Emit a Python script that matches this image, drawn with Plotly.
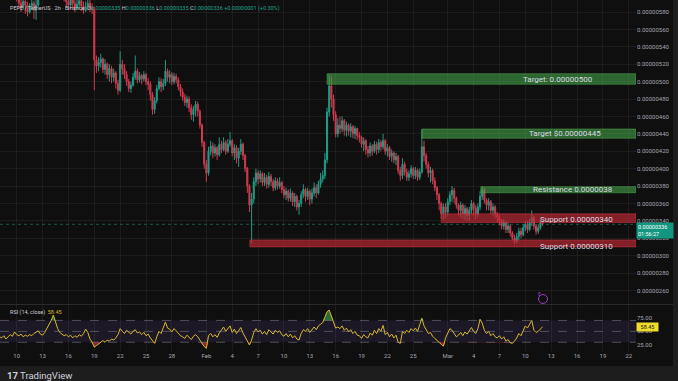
import plotly.graph_objects as go
import pandas as pd

# ---------------- data (prices in units of 1e-8 USDT, 6-hour bars) ----------------
start_time = "2026-01-08 00:00"
first_open = 608
close = [
    605, 610, 612, 606, 614, 609, 604, 600, 596, 590,
    585, 592, 588, 580, 586, 590, 582, 588, 598, 606,
    612, 618, 614, 620, 625, 618, 612, 608, 604, 600,
    597, 592, 588, 594, 590, 585, 589, 593, 587, 582,
    586, 590, 585, 583, 525, 518, 522, 526, 514, 520,
    508, 515, 505, 510, 498, 490, 520, 515, 508, 500,
    492, 496, 505, 512, 502, 507, 503, 508, 500, 497,
    485, 468, 478, 492, 500, 494, 498, 512, 505, 508,
    500, 506, 502, 494, 488, 482, 476, 480, 470, 462,
    468, 474, 466, 450, 430, 405, 395, 420, 426, 418,
    424, 416, 428, 422, 430, 420, 428, 432, 418, 424,
    412, 420, 428, 415, 400, 380, 358, 365, 385, 395,
    388, 394, 384, 390, 382, 391, 385, 378, 386, 380,
    384, 376, 370, 374, 366, 372, 362, 368, 356, 360,
    370, 376, 368, 374, 365, 372, 378, 372, 382, 388,
    392, 410, 465, 495, 480, 462, 440, 450, 446, 455,
    444, 450, 443, 448, 440, 446, 438, 436, 428, 432,
    422, 418, 426, 420, 428, 422, 430, 425, 432, 420,
    424, 414, 418, 410, 414, 398, 392, 405, 396, 390,
    394, 400, 392, 398, 390, 396, 425, 415, 405, 395,
    398, 386, 378, 370, 360, 348, 356, 350, 362, 370,
    375, 366, 358, 352, 358, 348, 354, 346, 352, 360,
    354, 348, 356, 368, 376, 364, 358, 362, 352, 356,
    348, 344, 340, 334, 338, 330, 334, 326, 320, 316,
    322, 328, 324, 332, 336, 330, 338, 344, 334, 328,
    332, 338, 336,
]
high = [
    615, 616, 618, 614, 620, 617, 612, 608, 604, 599,
    594, 596, 595, 592, 590, 598, 593, 594, 604, 612,
    618, 625, 622, 628, 632, 628, 622, 616, 612, 608,
    604, 600, 596, 598, 597, 594, 594, 600, 596, 592,
    592, 596, 594, 590, 586, 530, 528, 532, 528, 526,
    522, 520, 518, 515, 512, 502, 535, 525, 520, 512,
    503, 500, 510, 530, 515, 511, 509, 512, 510, 504,
    500, 488, 482, 496, 505, 504, 503, 525, 515, 513,
    511, 510, 509, 505, 497, 492, 486, 484, 483, 474,
    472, 478, 477, 468, 452, 432, 410, 425, 432, 430,
    428, 426, 436, 432, 436, 433, 434, 442, 434, 428,
    427, 424, 434, 430, 417, 402, 382, 372, 390, 400,
    398, 398, 396, 395, 393, 396, 394, 388, 390, 389,
    390, 386, 380, 378, 376, 377, 374, 372, 370, 364,
    374, 382, 378, 378, 376, 377, 384, 382, 386, 395,
    398, 418, 470, 508, 506, 485, 466, 458, 460, 460,
    457, 454, 452, 452, 450, 449, 447, 442, 438, 436,
    434, 426, 430, 428, 432, 431, 434, 433, 440, 434,
    428, 426, 422, 420, 418, 416, 402, 412, 408, 400,
    398, 404, 402, 402, 400, 400, 445, 432, 418, 408,
    402, 400, 390, 380, 372, 362, 360, 360, 366, 374,
    380, 378, 368, 360, 362, 360, 358, 356, 356, 364,
    362, 358, 360, 374, 380, 378, 366, 366, 364, 360,
    358, 350, 348, 342, 342, 340, 338, 336, 328, 324,
    326, 332, 332, 336, 340, 340, 342, 352, 346, 336,
    336, 342, 340,
]
low = [
    598, 601, 604, 600, 602, 603, 598, 596, 592, 584,
    580, 583, 578, 575, 578, 582, 572, 571, 586, 596,
    602, 608, 606, 610, 614, 612, 606, 602, 598, 596,
    592, 586, 582, 584, 584, 580, 582, 584, 581, 578,
    580, 582, 580, 578, 490, 510, 512, 516, 510, 508,
    503, 500, 498, 500, 492, 485, 488, 508, 503, 495,
    488, 487, 494, 502, 498, 499, 497, 500, 496, 490,
    478, 462, 463, 475, 490, 488, 490, 495, 500, 498,
    496, 497, 498, 490, 483, 478, 472, 470, 465, 456,
    454, 460, 460, 446, 425, 400, 385, 392, 415, 412,
    414, 410, 414, 418, 420, 416, 418, 425, 414, 410,
    406, 402, 416, 410, 396, 372, 350, 314, 360, 380,
    382, 384, 380, 380, 377, 378, 380, 374, 375, 376,
    377, 372, 366, 364, 362, 362, 357, 356, 352, 347,
    356, 366, 362, 364, 358, 360, 368, 366, 370, 378,
    384, 388, 406, 460, 470, 455, 436, 436, 440, 442,
    438, 437, 438, 436, 435, 434, 433, 430, 424, 420,
    416, 413, 414, 415, 418, 416, 418, 420, 422, 416,
    414, 410, 408, 406, 404, 394, 386, 388, 392, 386,
    386, 390, 388, 388, 386, 387, 394, 408, 400, 390,
    384, 382, 374, 364, 352, 342, 341, 343, 345, 358,
    362, 360, 354, 346, 344, 342, 341, 340, 340, 348,
    346, 341, 344, 352, 364, 360, 352, 352, 348, 346,
    343, 338, 335, 330, 330, 326, 326, 322, 318, 313,
    314, 318, 320, 322, 328, 326, 328, 334, 330, 324,
    325, 330, 334,
]
rsi = [
    40, 38, 42, 36, 40, 44, 41, 49, 44, 42,
    45, 40, 43, 41, 44, 42, 46, 48, 51, 45,
    43, 48, 55, 62, 70, 80, 66, 55, 48, 45,
    42, 44, 40, 43, 38, 42, 39, 44, 41, 46,
    54, 48, 36, 30, 21, 24, 27, 31, 33, 30,
    34, 32, 36, 34, 38, 44, 55, 50, 46, 52,
    48, 45, 50, 53, 47, 49, 44, 48, 42, 45,
    38, 32, 28, 40, 50, 46, 55, 67, 56, 54,
    49, 55, 51, 46, 42, 40, 37, 43, 38, 35,
    41, 44, 40, 34, 27, 22, 19, 42, 46, 40,
    44, 39, 47, 52, 58, 50, 55, 60, 48, 54,
    46, 52, 57, 47, 40, 32, 25, 34, 48, 55,
    49, 52, 45, 50, 44, 53, 49, 45, 52, 48,
    51, 44, 41, 46, 40, 45, 38, 42, 36, 34,
    46, 53, 50, 55, 48, 54, 58, 53, 60, 63,
    66, 76, 86, 89, 78, 66, 56, 58, 55, 60,
    52, 56, 49, 53, 46, 50, 43, 42, 37, 44,
    40, 38, 47, 43, 52, 46, 55, 50, 61, 44,
    48, 40, 45, 38, 43, 30, 28, 50, 46, 52,
    48, 55, 51, 56, 50, 62, 74, 60, 52, 46,
    48, 41, 37, 34, 30, 26, 23, 38, 48, 55,
    52, 45, 40, 43, 48, 42, 49, 45, 52, 57,
    50, 46, 55, 72, 65, 52, 46, 50, 42, 46,
    40, 38, 42, 36, 40, 32, 35, 29, 28, 32,
    38, 46, 42, 52, 60, 56, 64, 70, 52, 48,
    50, 55, 58.45,
]

price_ticks = [260, 280, 300, 320, 340, 360, 380, 400, 420, 440, 460, 480, 500, 520, 540, 560, 580]
date_ticks = ["2026-01-10", "2026-01-13", "2026-01-16", "2026-01-19", "2026-01-22", "2026-01-25",
              "2026-01-28", "2026-02-01", "2026-02-04", "2026-02-07", "2026-02-10", "2026-02-13",
              "2026-02-16", "2026-02-19", "2026-02-22", "2026-02-25", "2026-03-01", "2026-03-04",
              "2026-03-07", "2026-03-10", "2026-03-13", "2026-03-16", "2026-03-19", "2026-03-22"]
date_labels = ["10", "13", "16", "19", "22", "25", "28", "Feb", "4", "7", "10", "13", "16",
               "19", "22", "25", "Mar", "4", "7", "10", "13", "16", "19", "22"]

# drawn zones
zone_labels = ["Target: 0.00000500", "Target $0.00000445", "Resistance 0.0000038",
               "Support 0.00000340", "Support 0.00000310"]
zone_low = [497, 435, 372.3, 338, 310]
zone_high = [509, 445.5, 379.2, 348, 318]
zone_start = ["2026-02-15 00:00", "2026-02-26 00:00", "2026-03-04 20:00",
              "2026-02-28 06:00", "2026-02-06 01:00"]
zone_kind = ["target", "target", "target", "support", "support"]
zone_text_y = [503, 440, 375.7, 341, 310.5]
zone_text_x = ["2026-03-13 20:00", "2026-03-14 14:00", "2026-03-15 12:00",
               "2026-03-15 23:00", "2026-03-15 23:00"]

last_price = 336
last_rsi = 58.45

# ---------------- styling ----------------
SCALE = 1e-8
W, H = 678, 381
PLOT_R = 636
BG = "#0f0f0f"
FRAME = "#1d1d1d"
GRID = "rgba(255,255,255,0.055)"
AXT = "#a3a6af"
TXT = "#c9ccd4"
UP = "#1f9c86"
DN = "#d23a4e"
FONT = "Roboto"

times = pd.date_range(start_time, periods=len(close), freq="6h")
opens = [first_open] + close[:-1]
x_start = "2026-01-08 01:30"
x_end = "2026-03-22 20:10"

fig = go.Figure()
fig.add_trace(go.Candlestick(
    x=times,
    open=[v * SCALE for v in opens], high=[v * SCALE for v in high],
    low=[v * SCALE for v in low], close=[v * SCALE for v in close],
    increasing=dict(line=dict(color=UP, width=1), fillcolor=UP),
    decreasing=dict(line=dict(color=DN, width=1), fillcolor=DN),
    whiskerwidth=0, xaxis="x", yaxis="y", showlegend=False, hoverinfo="skip",
))

# RSI overbought / oversold fills
fig.add_trace(go.Scatter(x=times, y=[70] * len(rsi), mode="lines", line=dict(width=0),
                         xaxis="x2", yaxis="y2", hoverinfo="skip", showlegend=False))
fig.add_trace(go.Scatter(x=times, y=[max(v, 70) for v in rsi], mode="lines", line=dict(width=0),
                         fill="tonexty", fillcolor="rgba(60,170,80,0.6)",
                         xaxis="x2", yaxis="y2", hoverinfo="skip", showlegend=False))
fig.add_trace(go.Scatter(x=times, y=[30] * len(rsi), mode="lines", line=dict(width=0),
                         xaxis="x2", yaxis="y2", hoverinfo="skip", showlegend=False))
fig.add_trace(go.Scatter(x=times, y=[min(v, 30) for v in rsi], mode="lines", line=dict(width=0),
                         fill="tonexty", fillcolor="rgba(220,50,60,0.6)",
                         xaxis="x2", yaxis="y2", hoverinfo="skip", showlegend=False))
fig.add_trace(go.Scatter(x=times, y=rsi, mode="lines", line=dict(color="#d8b92c", width=1),
                         xaxis="x2", yaxis="y2", hoverinfo="skip", showlegend=False))

shapes = []
# outer frame strips
shapes.append(dict(type="rect", xref="paper", yref="paper", x0=673 / W, x1=1, y0=0, y1=1,
                   fillcolor=FRAME, line=dict(width=0), layer="below"))
shapes.append(dict(type="rect", xref="paper", yref="paper", x0=0, x1=1, y0=0, y1=1 - 366 / H,
                   fillcolor=FRAME, line=dict(width=0), layer="below"))
# pane separator
shapes.append(dict(type="line", xref="paper", yref="paper", x0=0, x1=673 / W,
                   y0=1 - 304.5 / H, y1=1 - 304.5 / H, line=dict(color="#2b2b2b", width=1)))
# RSI band
shapes.append(dict(type="rect", xref="x2", yref="y2", x0=x_start, x1=x_end, y0=30, y1=70,
                   fillcolor="rgba(126,87,194,0.13)", line=dict(width=0), layer="below"))
for lvl in (30, 50, 70):
    shapes.append(dict(type="line", xref="x2", yref="y2", x0=x_start, x1=x_end, y0=lvl, y1=lvl,
                       line=dict(color="rgba(150,152,160,0.45)", width=1, dash="dash")))
# last price line
shapes.append(dict(type="line", xref="x", yref="y", x0=x_start, x1=x_end,
                   y0=last_price * SCALE, y1=last_price * SCALE,
                   line=dict(color="rgba(31,156,134,0.5)", width=1, dash="dot")))
# zones
for lo, hi, st, kind in zip(zone_low, zone_high, zone_start, zone_kind):
    if kind == "target":
        fc, lc = "rgba(67,160,71,0.6)", "rgba(80,165,78,0.55)"
    else:
        fc, lc = "rgba(190,40,52,0.66)", "rgba(200,55,65,0.55)"
    shapes.append(dict(type="rect", xref="x", yref="y", x0=st, x1=x_end,
                       y0=lo * SCALE, y1=hi * SCALE, fillcolor=fc,
                       line=dict(color=lc, width=1), layer="above"))
# event icon circle
shapes.append(dict(type="circle", xref="paper", yref="paper",
                   x0=538.5 / W, x1=547.5 / W, y0=1 - 303.5 / H, y1=1 - 294.5 / H,
                   line=dict(color="#9b3fc0", width=1), fillcolor="rgba(0,0,0,0)"))

ann = []
for lab, tx, ty in zip(zone_labels, zone_text_x, zone_text_y):
    ann.append(dict(xref="x", yref="y", x=tx, y=ty * SCALE, text=lab, showarrow=False,
                    font=dict(size=8, color="#d9dbe1", family=FONT)))

TEAL = "#1fa58c"
hdr = ("PEPE / TetherUS · 2h · Binance  "
       f"O<span style='color:{TEAL}'>0.00000335</span> "
       f"H<span style='color:{TEAL}'>0.00000336</span> "
       f"L<span style='color:{TEAL}'>0.00000335</span> "
       f"C<span style='color:{TEAL}'>0.00000336</span> "
       f"<span style='color:{TEAL}'>+0.00000001 (+0.30%)</span>")
ann.append(dict(xref="paper", yref="paper", x=8 / W, y=1 - 9 / H, xanchor="left", yanchor="middle",
                text=hdr, showarrow=False, font=dict(size=5.5, color=TXT, family=FONT)))
ann.append(dict(xref="paper", yref="paper", x=8 / W, y=1 - 312 / H, xanchor="left", yanchor="middle",
                text="RSI (14, close)  <span style='color:#d8b92c'>58.45</span>", showarrow=False,
                font=dict(size=5.5, color=TXT, family=FONT)))
# last price badge
ann.append(dict(xref="paper", yref="paper", x=PLOT_R / W, y=1 - 221.5 / H, xanchor="left", yanchor="top",
                text="0.00000336<br>01:56:27", showarrow=False, align="left",
                bgcolor="#13967f", borderpad=1, width=34,
                font=dict(size=5.5, color="#ffffff", family=FONT)))
# RSI badge
ann.append(dict(xref="paper", yref="y2", x=PLOT_R / W, y=last_rsi, xanchor="left", yanchor="middle",
                text="58.45", showarrow=False, bgcolor="#efdc2f", borderpad=1, width=19,
                font=dict(size=5.5, color="#1a1a1a", family=FONT)))
# event icon glyph
ann.append(dict(xref="paper", yref="paper", x=543 / W, y=1 - 299 / H, text="E", showarrow=False,
                font=dict(size=5, color="#9b3fc0", family=FONT)))
# TradingView logo
ann.append(dict(xref="paper", yref="paper", x=5 / W, y=1 - 375.5 / H, xanchor="left", yanchor="middle",
                text="<b>17</b> TradingView", showarrow=False,
                font=dict(size=9.5, color="#d1d4dc", family=FONT)))

fig.update_layout(
    width=W, height=H, margin=dict(l=0, r=0, t=0, b=0),
    paper_bgcolor=BG, plot_bgcolor=BG, showlegend=False,
    font=dict(family=FONT, size=6, color=AXT),
    xaxis=dict(domain=[0, PLOT_R / W], range=[x_start, x_end], type="date",
               rangeslider=dict(visible=False), showticklabels=False,
               tickvals=date_ticks, showgrid=True, gridcolor=GRID, gridwidth=1,
               zeroline=False, showline=False, anchor="y", fixedrange=True),
    yaxis=dict(domain=[1 - 304 / H, 1], range=[244.4 * SCALE, 593.8 * SCALE], side="right",
               tickvals=[v * SCALE for v in price_ticks], tickformat=".8f",
               showgrid=True, gridcolor=GRID, zeroline=False, showline=False, ticks="",
               anchor="x", tickfont=dict(size=6, color=AXT, family=FONT)),
    xaxis2=dict(domain=[0, PLOT_R / W], range=[x_start, x_end], type="date", matches="x",
                tickvals=date_ticks, ticktext=date_labels, showgrid=True, gridcolor=GRID,
                ticks="", zeroline=False, showline=False, anchor="y2",
                tickfont=dict(size=6, color=AXT, family=FONT)),
    yaxis2=dict(domain=[1 - 351 / H, 1 - 305 / H], range=[14, 98.3], side="right",
                tickvals=[25, 50, 75], tickformat=".2f", showgrid=False, zeroline=False,
                showline=False, ticks="", anchor="x2", tickfont=dict(size=6, color=AXT, family=FONT)),
    shapes=shapes, annotations=ann,
)

fig.write_html("out.html", config={"displayModeBar": False},
               post_script="document.body.style.margin='0';document.body.style.overflow='hidden';")
